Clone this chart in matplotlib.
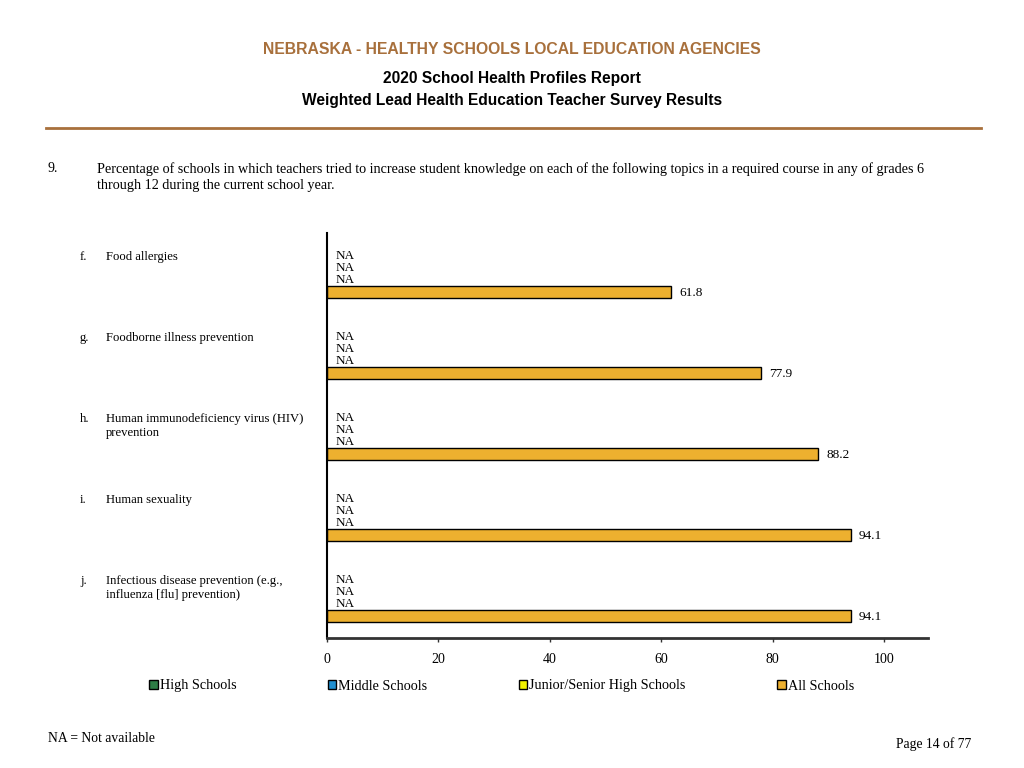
import numpy as np
import matplotlib
import matplotlib.pyplot as plt
from matplotlib.transforms import blended_transform_factory

matplotlib.use("Agg")

SERIF = ["Liberation Serif", "DejaVu Serif"]
SANS = ["Liberation Sans", "DejaVu Sans"]
BROWN = "#A8703C"

letters = ["f.", "g.", "h.", "i.", "j."]
topics = [
    "Food allergies",
    "Foodborne illness prevention",
    "Human immunodeficiency virus (HIV)\nprevention",
    "Human sexuality",
    "Infectious disease prevention (e.g.,\ninfluenza [flu] prevention)",
]
series_names = ["High Schools", "Middle Schools", "Junior/Senior High Schools", "All Schools"]
series_colors = ["#2E7D46", "#1F8FD0", "#F2F200", "#EDB02F"]
high_schools = [np.nan] * 5
middle_schools = [np.nan] * 5
jrsr_schools = [np.nan] * 5
all_schools = [61.8, 77.9, 88.2, 94.1, 94.1]
xticks = [0, 20, 40, 60, 80, 100]

series = [high_schools, middle_schools, jrsr_schools, all_schools]

fig = plt.figure(figsize=(10.24, 7.68), dpi=100)
ax = fig.add_axes([327 / 1024, 1 - 638 / 768, 601 / 1024, 405 / 768])

group_pitch = 6.75
first_slot = 1.92
handles = []
for s, (vals, name, col) in enumerate(zip(series, series_names, series_colors)):
    ys = [first_slot + s + group_pitch * g for g in range(len(vals))]
    bars = ax.barh(ys, vals, height=1.0, color=col, edgecolor="black",
                   linewidth=1.0, label=name)
    handles.append(bars)
    for y, v in zip(ys, vals):
        if np.isnan(v):
            ax.text(1.6, y, "NA", ha="left", va="center", fontsize=9.5, family=SERIF)
        else:
            ax.text(v + 1.4, y + 0.08, f"{v:.1f}", ha="left", va="center",
                    fontsize=9.5, family=SERIF)

ax.set_xlim(0, 107.9)
ax.set_ylim(33.75, 0)
ax.set_xticks(xticks)
ax.set_xticklabels([str(t) for t in xticks], family=SERIF, fontsize=10)
ax.set_yticks([])
ax.tick_params(axis="x", length=3, width=1, color="#333333", pad=8)
for side in ["top", "right"]:
    ax.spines[side].set_visible(False)
ax.spines["left"].set_linewidth(1.5)
ax.spines["bottom"].set_linewidth(2)
ax.spines["bottom"].set_color("#333333")

# category labels at left, aligned to each group's first slot
trans = blended_transform_factory(fig.transFigure, ax.transData)
for g, (letter, topic) in enumerate(zip(letters, topics)):
    y = first_slot + group_pitch * g - 0.45
    fig.text(80 / 1024, y, letter, transform=trans, ha="left", va="top",
             fontsize=9.1, family=SERIF)
    fig.text(106 / 1024, y, topic, transform=trans, ha="left", va="top",
             fontsize=9.1, family=SERIF, linespacing=1.3)

# header
fig.text(0.5, 1 - 50 / 768, "NEBRASKA - HEALTHY SCHOOLS LOCAL EDUCATION AGENCIES",
         ha="center", va="center", fontsize=11.3, weight="bold", color=BROWN, family=SANS)
fig.text(0.5, 1 - 79 / 768, "2020 School Health Profiles Report",
         ha="center", va="center", fontsize=11.2, weight="bold", family=SANS)
fig.text(0.5, 1 - 100 / 768, "Weighted Lead Health Education Teacher Survey Results",
         ha="center", va="center", fontsize=11.2, weight="bold", family=SANS)
fig.add_artist(plt.Line2D([46 / 1024, 981 / 1024], [1 - 128 / 768, 1 - 128 / 768],
                          color=BROWN, linewidth=2, transform=fig.transFigure))

fig.text(48 / 1024, 1 - 169 / 768, "9.", ha="left", va="center", fontsize=10, family=SERIF)
fig.text(97 / 1024, 1 - 177 / 768,
         "Percentage of schools in which teachers tried to increase student knowledge on each of the "
         "following topics in a required course in any of grades 6\nthrough 12 during the current school year.",
         ha="left", va="center", fontsize=10.2, family=SERIF, linespacing=1.35)

leg = fig.legend(handles=handles, labels=series_names, loc="center left",
                 bbox_to_anchor=(149 / 1024, 1 - 686 / 768), ncol=4, frameon=False,
                 prop={"family": SERIF, "size": 10.2}, handlelength=0.6, handleheight=0.6,
                 handletextpad=0.15, columnspacing=6.45, borderaxespad=0, borderpad=0)

fig.text(48 / 1024, 1 - 739 / 768, "NA = Not available", ha="left", va="center",
         fontsize=9.8, family=SERIF)
fig.text(971 / 1024, 1 - 744 / 768, "Page 14 of 77", ha="right", va="center",
         fontsize=9.8, family=SERIF)

fig.savefig("out.png", dpi=100)
